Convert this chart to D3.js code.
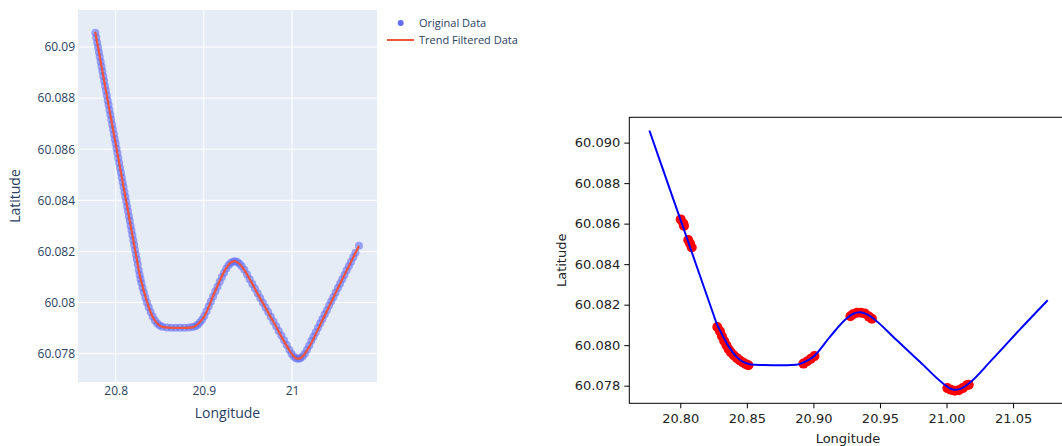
<!DOCTYPE html>
<html>
<head>
<meta charset="utf-8">
<script src="https://cdn.jsdelivr.net/npm/d3@7"></script>
<style>
	body { margin: 0; background: #fff; }
	svg { display: block; }
</style>
</head>
<body>
<svg id="chart" width="1062" height="446"></svg>
<script>
/* trend filtered track (lon / lat) */
const trendLon = [20.7768, 20.7850, 20.7950, 20.8050, 20.8150, 20.8250, 20.8273, 20.8298, 20.8323, 20.8348,
	20.8373, 20.8398, 20.8423, 20.8448, 20.8473, 20.8500, 20.8530, 20.8600, 20.8700, 20.8800,
	20.8870, 20.8910, 20.8950, 20.9000, 20.9124, 20.9249, 20.9300, 20.9349, 20.9400, 20.9437,
	20.9625, 20.9800, 20.9974, 21.0030, 21.0062, 21.0100, 21.0162, 21.0338, 21.0550, 21.0760];
const trendLat = [60.09060, 60.08905, 60.08716, 60.08528, 60.08339, 60.08150, 60.08107, 60.08073, 60.08041, 60.08011,
	60.07984, 60.07961, 60.07942, 60.07928, 60.07918, 60.07910, 60.07905, 60.07902, 60.07901, 60.07901,
	60.07903, 60.07910, 60.07922, 60.07943, 60.08041, 60.08132, 60.08155, 60.08162, 60.08153, 60.08138,
	60.08025, 60.07918, 60.07811, 60.07785, 60.07780, 60.07783, 60.07808, 60.07926, 60.08077, 60.08222];

/* original gps points */
const origLon = [20.777, 20.778, 20.779, 20.780, 20.781, 20.782, 20.783, 20.784, 20.785, 20.786,
	20.787, 20.788, 20.789, 20.790, 20.791, 20.792, 20.793, 20.794, 20.795, 20.796,
	20.797, 20.798, 20.799, 20.800, 20.801, 20.802, 20.803, 20.804, 20.805, 20.806,
	20.807, 20.808, 20.809, 20.810, 20.811, 20.812, 20.813, 20.814, 20.815, 20.816,
	20.817, 20.818, 20.819, 20.820, 20.821, 20.822, 20.823, 20.824, 20.825,
	20.8262, 20.8272, 20.8282, 20.8292, 20.8305, 20.8320, 20.8337, 20.8355, 20.8375, 20.8397,
	20.8420, 20.8445, 20.8472, 20.8500, 20.8530,
	20.8580, 20.8630, 20.8680, 20.8730, 20.8780, 20.8830, 20.8870,
	20.8905, 20.8930, 20.8955, 20.8980, 20.9005, 20.9030, 20.9055, 20.9080, 20.9105, 20.9130,
	20.9155, 20.9180, 20.9205, 20.9230, 20.9255, 20.9280, 20.9305, 20.9330, 20.9355, 20.9380,
	20.9405, 20.9430,
	20.9460, 20.9490, 20.9520, 20.9550, 20.9580, 20.9610, 20.9640, 20.9670, 20.9700, 20.9730,
	20.9760, 20.9790, 20.9820, 20.9850, 20.9880, 20.9910, 20.9940, 20.9970,
	20.9995, 21.0020, 21.0045, 21.0070, 21.0095, 21.0120, 21.0145, 21.0170,
	21.0195, 21.0220, 21.0245, 21.0270, 21.0295, 21.0320, 21.0345, 21.0370, 21.0395, 21.0420,
	21.0445, 21.0470, 21.0495, 21.0520, 21.0545, 21.0570, 21.0595, 21.0620, 21.0645, 21.0670,
	21.0695, 21.0720, 21.0760];
const origLat = [60.09056, 60.09037, 60.09018, 60.08999, 60.08980, 60.08961, 60.08942, 60.08924, 60.08905, 60.08886,
	60.08867, 60.08848, 60.08829, 60.08810, 60.08791, 60.08773, 60.08754, 60.08735, 60.08716, 60.08697,
	60.08678, 60.08659, 60.08640, 60.08622, 60.08603, 60.08584, 60.08565, 60.08546, 60.08527, 60.08508,
	60.08489, 60.08471, 60.08452, 60.08433, 60.08414, 60.08395, 60.08376, 60.08357, 60.08338, 60.08320,
	60.08301, 60.08282, 60.08263, 60.08244, 60.08225, 60.08206, 60.08187, 60.08169, 60.08150,
	60.08127, 60.08109, 60.08092, 60.08076, 60.08058, 60.08040, 60.08020, 60.08000, 60.07982, 60.07963,
	60.07945, 60.07930, 60.07918, 60.07910, 60.07905,
	60.07902, 60.07901, 60.07901, 60.07901, 60.07901, 60.07902, 60.07904,
	60.07907, 60.07913, 60.07922, 60.07933, 60.07947, 60.07966, 60.07985, 60.08004, 60.08024, 60.08043,
	60.08062, 60.08081, 60.08100, 60.08117, 60.08133, 60.08146, 60.08155, 60.08160, 60.08162, 60.08159,
	60.08152, 60.08142,
	60.08128, 60.08110, 60.08091, 60.08073, 60.08055, 60.08036, 60.08018, 60.07999, 60.07981, 60.07963,
	60.07944, 60.07926, 60.07907, 60.07889, 60.07871, 60.07852, 60.07834, 60.07815,
	60.07800, 60.07789, 60.07782, 60.07780, 60.07782, 60.07789, 60.07800, 60.07815,
	60.07832, 60.07850, 60.07867, 60.07884, 60.07901, 60.07919, 60.07936, 60.07953, 60.07970, 60.07988,
	60.08005, 60.08022, 60.08039, 60.08057, 60.08074, 60.08091, 60.08108, 60.08126, 60.08143, 60.08160,
	60.08177, 60.08195, 60.08222];

/* red scatter points on the second chart */
const redLon = [20.8003, 20.8023, 20.8028, 20.8060, 20.8073, 20.8086,
	20.8278, 20.8298, 20.8313, 20.8330, 20.8347, 20.8363, 20.8381, 20.8403, 20.8426, 20.8448, 20.8471, 20.8493, 20.8512,
	20.8925, 20.8951, 20.8981, 20.9008,
	20.9278, 20.9297, 20.9327, 20.9357, 20.9387, 20.9417, 20.9439,
	21.0006, 21.0032, 21.0062, 21.0092, 21.0122, 21.0152, 21.0167];
const redLat = [60.08621, 60.08601, 60.08588, 60.08519, 60.08502, 60.08482,
	60.08090, 60.08069, 60.08044, 60.08021, 60.08000, 60.07980, 60.07964, 60.07949, 60.07936, 60.07924, 60.07915, 60.07906, 60.07901,
	60.07909, 60.07919, 60.07933, 60.07946,
	60.08143, 60.08153, 60.08160, 60.08160, 60.08156, 60.08141, 60.08131,
	60.07788, 60.07780, 60.07775, 60.07778, 60.07788, 60.07802, 60.07805];

/* tick values */
const leftXTicks = [20.8, 20.9, 21];
const leftYTicks = [60.078, 60.08, 60.082, 60.084, 60.086, 60.088, 60.09];
const rightXTicks = [20.80, 20.85, 20.90, 20.95, 21.00, 21.05];
const rightYTicks = [60.078, 60.080, 60.082, 60.084, 60.086, 60.088, 60.090];

const legendItems = ["Original Data", "Trend Filtered Data"];

const trend = trendLon.map((d, i) => ({ lon: d, lat: trendLat[i] }));
const orig = origLon.map((d, i) => ({ lon: d, lat: origLat[i] }));
const red = redLon.map((d, i) => ({ lon: d, lat: redLat[i] }));

const svg = d3.select("#chart");

/* ---------- left: plotly-like chart ---------- */
const pl = { left: 78, right: 377, top: 10, bottom: 382 };
const plotFont = "'Open Sans', verdana, arial, sans-serif";
const plotText = "#2a3f5f";

const x1 = d3.scaleLinear().domain([20.7573, 21.0964]).range([pl.left, pl.right]);
const y1 = d3.scaleLinear().domain([60.07689, 60.09145]).range([pl.bottom, pl.top]);

svg.append("rect")
	.attr("x", pl.left)
	.attr("y", pl.top)
	.attr("width", pl.right - pl.left)
	.attr("height", pl.bottom - pl.top)
	.attr("fill", "#e5ecf6");

// grid
svg.append("g")
	.selectAll("line")
	.data(leftXTicks)
	.join("line")
	.attr("x1", d => x1(d))
	.attr("x2", d => x1(d))
	.attr("y1", pl.top)
	.attr("y2", pl.bottom)
	.attr("stroke", "#fff")
	.attr("stroke-width", 1);

svg.append("g")
	.selectAll("line")
	.data(leftYTicks)
	.join("line")
	.attr("x1", pl.left)
	.attr("x2", pl.right)
	.attr("y1", d => y1(d))
	.attr("y2", d => y1(d))
	.attr("stroke", "#fff")
	.attr("stroke-width", 1);

// axes
const lx = svg.append("g")
	.attr("transform", `translate(0,${pl.bottom})`)
	.call(d3.axisBottom(x1).tickValues(leftXTicks).tickSize(0).tickPadding(4).tickFormat(d3.format("~g")));
const ly = svg.append("g")
	.attr("transform", `translate(${pl.left},0)`)
	.call(d3.axisLeft(y1).tickValues(leftYTicks).tickSize(0).tickPadding(3).tickFormat(d3.format("~g")));
[lx, ly].forEach(g => {
	g.select(".domain").remove();
	g.selectAll("text")
		.attr("fill", plotText)
		.style("font-family", plotFont)
		.style("font-size", "12px");
});

// markers then trend line
svg.append("g")
	.selectAll("circle")
	.data(orig)
	.join("circle")
	.attr("cx", d => x1(d.lon))
	.attr("cy", d => y1(d.lat))
	.attr("r", 4)
	.attr("fill", "#636efa")
	.attr("opacity", 0.6);

svg.append("path")
	.datum(trend)
	.attr("fill", "none")
	.attr("stroke", "#ef553b")
	.attr("stroke-width", 2.2)
	.attr("d", d3.line().x(d => x1(d.lon)).y(d => y1(d.lat)).curve(d3.curveMonotoneX));

// axis titles
svg.append("text")
	.attr("x", (pl.left + pl.right) / 2)
	.attr("y", 418)
	.attr("text-anchor", "middle")
	.attr("fill", plotText)
	.style("font-family", plotFont)
	.style("font-size", "14px")
	.text("Longitude");

svg.append("text")
	.attr("transform", `translate(20,${(pl.top + pl.bottom) / 2}) rotate(-90)`)
	.attr("text-anchor", "middle")
	.attr("fill", plotText)
	.style("font-family", plotFont)
	.style("font-size", "14px")
	.text("Latitude");

// legend
const legend = svg.append("g").attr("transform", "translate(387,0)");
legend.append("circle")
	.attr("cx", 13.7)
	.attr("cy", 23)
	.attr("r", 3)
	.attr("fill", "#636efa");
legend.append("line")
	.attr("x1", 0)
	.attr("x2", 27)
	.attr("y1", 40)
	.attr("y2", 40)
	.attr("stroke", "#ef553b")
	.attr("stroke-width", 2);
legend.selectAll("text.lg")
	.data(legendItems)
	.join("text")
	.attr("class", "lg")
	.attr("x", 32)
	.attr("y", (d, i) => 27 + i * 17)
	.attr("fill", plotText)
	.style("font-family", plotFont)
	.style("font-size", "11px")
	.text(d => d);

/* ---------- right: matplotlib-like chart ---------- */
const pr = { left: 629.3, right: 1069, top: 117.3, bottom: 403.3 };
const mplFont = "'DejaVu Sans', sans-serif";

const x2 = d3.scaleLinear().domain([20.7617, 21.092]).range([pr.left, pr.right]);
const y2 = d3.scaleLinear().domain([60.07713, 60.09125]).range([pr.bottom, pr.top]);

svg.append("clipPath")
	.attr("id", "clipR")
	.append("rect")
	.attr("x", pr.left)
	.attr("y", pr.top)
	.attr("width", pr.right - pr.left)
	.attr("height", pr.bottom - pr.top);

const plotR = svg.append("g").attr("clip-path", "url(#clipR)");

plotR.append("g")
	.selectAll("circle")
	.data(red)
	.join("circle")
	.attr("cx", d => x2(d.lon))
	.attr("cy", d => y2(d.lat))
	.attr("r", 5)
	.attr("fill", "#ff0000");

plotR.append("path")
	.datum(trend)
	.attr("fill", "none")
	.attr("stroke", "#0000ff")
	.attr("stroke-width", 2)
	.attr("d", d3.line().x(d => x2(d.lon)).y(d => y2(d.lat)).curve(d3.curveMonotoneX));

svg.append("rect")
	.attr("x", pr.left)
	.attr("y", pr.top)
	.attr("width", pr.right - pr.left)
	.attr("height", pr.bottom - pr.top)
	.attr("fill", "none")
	.attr("stroke", "#000")
	.attr("stroke-width", 1);

const rx = svg.append("g")
	.attr("transform", `translate(0,${pr.bottom})`)
	.call(d3.axisBottom(x2).tickValues(rightXTicks).tickSize(5).tickPadding(5).tickFormat(d3.format(".2f")));
const ry = svg.append("g")
	.attr("transform", `translate(${pr.left},0)`)
	.call(d3.axisLeft(y2).tickValues(rightYTicks).tickSize(5).tickPadding(4).tickFormat(d3.format(".3f")));
[rx, ry].forEach(g => {
	g.select(".domain").remove();
	g.selectAll("line").attr("stroke", "#000");
	g.selectAll("text")
		.attr("fill", "#222")
		.style("font-family", mplFont)
		.style("font-size", "13px");
});

svg.append("text")
	.attr("x", 848)
	.attr("y", 443)
	.attr("text-anchor", "middle")
	.attr("fill", "#222")
	.style("font-family", mplFont)
	.style("font-size", "13px")
	.text("Longitude");

svg.append("text")
	.attr("transform", `translate(566,${(pr.top + pr.bottom) / 2}) rotate(-90)`)
	.attr("text-anchor", "middle")
	.attr("fill", "#222")
	.style("font-family", mplFont)
	.style("font-size", "13px")
	.text("Latitude");
</script>
</body>
</html>
